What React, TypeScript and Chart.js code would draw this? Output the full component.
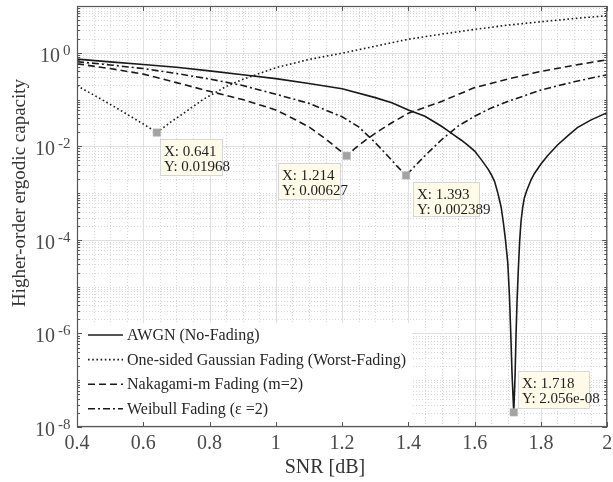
import React, { useEffect, useRef } from 'react';
import { Chart, registerables } from 'chart.js';

Chart.register(...registerables);

// ---------------- data ----------------
const awgnSnr = [0.4, 0.5, 0.6, 0.7, 0.8, 0.9, 1.0, 1.1, 1.2, 1.3, 1.35, 1.4, 1.45, 1.5, 1.52, 1.54, 1.56, 1.58, 1.6, 1.62, 1.64, 1.65, 1.66, 1.67, 1.68, 1.687, 1.693, 1.7, 1.705, 1.709, 1.713, 1.718, 1.722, 1.725, 1.728, 1.732, 1.736, 1.74, 1.745, 1.75, 1.757, 1.77, 1.78, 1.8, 1.82, 1.85, 1.88, 1.91, 1.95, 2.0];
const awgnCap = [0.73, 0.64, 0.56, 0.49, 0.41, 0.34, 0.28, 0.22, 0.17, 0.11, 0.085, 0.06, 0.044, 0.0269, 0.0214, 0.017, 0.0135, 0.0105, 0.0079, 0.0052, 0.0033, 0.0025, 0.00178, 0.001, 5e-4, 2.24e-4, 1e-4, 3.2e-5, 6.3e-6, 1e-6, 1.26e-7, 2.056e-8, 1.26e-7, 1e-6, 5e-6, 2.5e-5, 1e-4, 2.5e-4, 5e-4, 7.9e-4, 1.12e-3, 1.9e-3, 2.6e-3, 4.2e-3, 6.3e-3, 0.0107, 0.0166, 0.0251, 0.0363, 0.0525];

const gaussSnr = [0.4, 0.45, 0.5, 0.55, 0.6, 0.641, 0.68, 0.72, 0.78, 0.85, 0.9, 0.95, 1.0, 1.1, 1.2, 1.3, 1.4, 1.5, 1.6, 1.7, 1.8, 1.9, 2.0];
const gaussCap = [0.197, 0.126, 0.079, 0.049, 0.030, 0.01968, 0.032, 0.05, 0.1, 0.19, 0.27, 0.36, 0.48, 0.72, 0.98, 1.38, 1.95, 2.5, 3.16, 3.9, 4.6, 5.4, 6.2];

const nakaSnr = [0.4, 0.5, 0.6, 0.7, 0.8, 0.9, 1.0, 1.05, 1.1, 1.15, 1.18, 1.214, 1.24, 1.278, 1.3, 1.35, 1.4, 1.45, 1.5, 1.6, 1.7, 1.8, 1.9, 2.0];
const nakaCap = [0.58, 0.46, 0.35, 0.23, 0.15, 0.1, 0.06, 0.04, 0.026, 0.0145, 0.0097, 0.00627, 0.0092, 0.0148, 0.019, 0.032, 0.051, 0.068, 0.091, 0.18, 0.275, 0.4, 0.54, 0.71];

const weibSnr = [0.4, 0.5, 0.6, 0.7, 0.8, 0.9, 1.0, 1.1, 1.2, 1.25, 1.3, 1.34, 1.37, 1.393, 1.42, 1.45, 1.5, 1.55, 1.6, 1.65, 1.7, 1.8, 1.9, 2.0];
const weibCap = [0.645, 0.55, 0.46, 0.36, 0.275, 0.2, 0.13, 0.083, 0.043, 0.026, 0.012, 0.006, 0.0035, 0.002389, 0.0038, 0.0063, 0.0138, 0.027, 0.044, 0.066, 0.091, 0.16, 0.24, 0.34];

const seriesLabels = [
  'AWGN (No-Fading)',
  'One-sided Gaussian Fading (Worst-Fading)',
  'Nakagami-m Fading (m=2)',
  'Weibull Fading (\u03B5 =2)',
];

const tipX = [0.641, 1.214, 1.393, 1.718];
const tipY = [0.01968, 0.00627, 0.002389, 2.056e-8];
const tipTextX = ['X: 0.641', 'X: 1.214', 'X: 1.393', 'X: 1.718'];
const tipTextY = ['Y: 0.01968', 'Y: 0.00627', 'Y: 0.002389', 'Y: 2.056e-08'];

const xTickValues = [0.4, 0.6, 0.8, 1.0, 1.2, 1.4, 1.6, 1.8, 2.0];
const xTickLabels = ['0.4', '0.6', '0.8', '1', '1.2', '1.4', '1.6', '1.8', '2'];
const yTickExponents = [0, -2, -4, -6, -8];
const yTickExpLabels = ['0', '-2', '-4', '-6', '-8'];

const xTitle = 'SNR [dB]';
const yTitle = 'Higher-order ergodic capacity';

// ---------------- styles / layout ----------------
const FONT = "'Liberation Serif', 'Times New Roman', serif";
const LINE = '#1a1a1a';
const dashes = [[], [1.6, 2.6], [7, 4], [7, 3, 2, 3]];
// tip box placement relative to its marker: dx, dy (top-left), width, height
const tipBoxes = [
  { dx: 3, dy: 6, w: 62, h: 36 },
  { dx: -69, dy: 7, w: 62, h: 36 },
  { dx: 7, dy: 7, w: 66, h: 34 },
  { dx: 4, dy: -41, w: 71, h: 37 },
];

const framePlugin = {
  id: 'frame',
  beforeDatasetsDraw(chart: any) {
    const { ctx, chartArea: a, scales } = chart;
    const xs = scales.x, ys = scales.y;
    ctx.save();
    // minor grid (dotted)
    ctx.lineWidth = 1;
    ctx.strokeStyle = '#d8d8d8';
    ctx.setLineDash([1, 2]);
    ctx.beginPath();
    for (let i = 1; i < 32; i++) {
      if (i % 4 === 0) continue;
      const v = 0.4 + i * 0.05;
      const px = Math.round(xs.getPixelForValue(v)) + 0.5;
      ctx.moveTo(px, a.top);
      ctx.lineTo(px, a.bottom);
    }
    for (let k = -8; k <= 0; k++) {
      for (let m = 1; m <= 9; m++) {
        if (m === 1 && k % 2 === 0) continue;
        const py = Math.round(ys.getPixelForValue(m * Math.pow(10, k))) + 0.5;
        ctx.moveTo(a.left, py);
        ctx.lineTo(a.right, py);
      }
    }
    ctx.stroke();
    // major grid (solid)
    ctx.setLineDash([]);
    ctx.strokeStyle = '#e0e0e0';
    ctx.beginPath();
    xTickValues.forEach((v) => {
      const px = Math.round(xs.getPixelForValue(v)) + 0.5;
      ctx.moveTo(px, a.top);
      ctx.lineTo(px, a.bottom);
    });
    yTickExponents.forEach((e) => {
      const py = Math.round(ys.getPixelForValue(Math.pow(10, e))) + 0.5;
      ctx.moveTo(a.left, py);
      ctx.lineTo(a.right, py);
    });
    ctx.stroke();
    ctx.restore();
  },
  afterDatasetsDraw(chart: any) {
    const { ctx, chartArea: a, scales } = chart;
    const xs = scales.x, ys = scales.y;
    ctx.save();
    // legend (white background, no border)
    const legLeft = a.left + 1, legTop = a.bottom - 104, legRight = 412;
    ctx.fillStyle = '#ffffff';
    ctx.fillRect(legLeft, legTop, legRight - legLeft, a.bottom - legTop - 1);
    const lineDs = chart.data.datasets.filter((d: any) => d.isCurve);
    lineDs.forEach((d: any, i: number) => {
      const cy = legTop + 12 + i * 24.6;
      ctx.strokeStyle = LINE;
      ctx.lineWidth = 1.6;
      ctx.setLineDash(d.borderDash || []);
      ctx.beginPath();
      ctx.moveTo(88, cy);
      ctx.lineTo(123, cy);
      ctx.stroke();
      ctx.setLineDash([]);
      ctx.fillStyle = '#262626';
      ctx.font = `16px ${FONT}`;
      ctx.textAlign = 'left';
      ctx.textBaseline = 'middle';
      ctx.fillText(d.label, 127, cy + 1);
    });

    // axes box
    ctx.setLineDash([]);
    ctx.strokeStyle = '#575757';
    ctx.lineWidth = 1.2;
    ctx.strokeRect(a.left + 0.5, a.top + 0.5, a.right - a.left - 1, a.bottom - a.top - 1);

    // ticks
    ctx.lineWidth = 1;
    ctx.beginPath();
    xTickValues.forEach((v) => {
      const px = Math.round(xs.getPixelForValue(v)) + 0.5;
      ctx.moveTo(px, a.bottom);
      ctx.lineTo(px, a.bottom - 5);
      ctx.moveTo(px, a.top);
      ctx.lineTo(px, a.top + 5);
    });
    for (let k = -8; k <= 0; k++) {
      for (let m = 1; m <= 9; m++) {
        const major = m === 1 && k % 2 === 0;
        const len = major ? 5 : 3;
        const py = Math.round(ys.getPixelForValue(m * Math.pow(10, k))) + 0.5;
        ctx.moveTo(a.left, py);
        ctx.lineTo(a.left + len, py);
        ctx.moveTo(a.right, py);
        ctx.lineTo(a.right - len, py);
      }
    }
    ctx.stroke();

    // x tick labels
    ctx.fillStyle = '#4a4a4a';
    ctx.font = `20px ${FONT}`;
    ctx.textAlign = 'center';
    ctx.textBaseline = 'alphabetic';
    xTickValues.forEach((v, i) => {
      ctx.fillText(xTickLabels[i], xs.getPixelForValue(v), a.bottom + 22);
    });

    // y tick labels 10^k
    yTickExponents.forEach((e, i) => {
      const py = ys.getPixelForValue(Math.pow(10, e));
      ctx.font = `15px ${FONT}`;
      const ew = ctx.measureText(yTickExpLabels[i]).width;
      const expLeft = 70.5 - ew;
      ctx.textAlign = 'left';
      ctx.fillText(yTickExpLabels[i], expLeft, py + 2);
      ctx.font = `20px ${FONT}`;
      ctx.textAlign = 'right';
      ctx.fillText('10', expLeft - 3, py + 9);
    });

    // axis titles
    ctx.fillStyle = '#333333';
    ctx.font = `20px ${FONT}`;
    ctx.textAlign = 'center';
    ctx.fillText(xTitle, 325, a.bottom + 46);
    ctx.save();
    ctx.translate(25, 193);
    ctx.rotate(-Math.PI / 2);
    ctx.font = `19px ${FONT}`;
    ctx.fillText(yTitle, 0, 0);
    ctx.restore();

    // data tips
    tipX.forEach((v, i) => {
      const mx = xs.getPixelForValue(v);
      const my = ys.getPixelForValue(tipY[i]);
      const b = tipBoxes[i];
      const left = Math.round(mx + b.dx) + 0.5;
      const top = Math.round(my + b.dy) + 0.5;
      ctx.fillStyle = '#fffbe8';
      ctx.fillRect(left, top, b.w, b.h);
      ctx.strokeStyle = '#d6d6d6';
      ctx.lineWidth = 1;
      ctx.strokeRect(left, top, b.w, b.h);
      ctx.fillStyle = '#1e1e1e';
      ctx.font = `15px ${FONT}`;
      ctx.textAlign = 'left';
      ctx.textBaseline = 'alphabetic';
      ctx.fillText(tipTextX[i], left + 3.5, top + 16);
      ctx.fillText(tipTextY[i], left + 3.5, top + 31);
    });
    ctx.restore();
  },
};

function pts(xv: number[], yv: number[]) {
  return xv.map((v, i) => ({ x: v, y: yv[i] }));
}

export default function App() {
  const ref = useRef<HTMLCanvasElement>(null);
  useEffect(() => {
    document.body.style.margin = '0';
    const curves = [
      pts(awgnSnr, awgnCap),
      pts(gaussSnr, gaussCap),
      pts(nakaSnr, nakaCap),
      pts(weibSnr, weibCap),
    ];
    const datasets: any[] = [
      {
        label: 'Data tips',
        data: pts(tipX, tipY),
        showLine: false,
        pointStyle: 'rect',
        pointRadius: 5.3,
        pointBackgroundColor: '#a3a3a3',
        pointBorderColor: '#b8b8b8',
        pointBorderWidth: 0.5,
        order: 0,
        clip: false,
      },
      ...curves.map((c, i) => ({
        label: seriesLabels[i],
        isCurve: true,
        data: c,
        borderColor: LINE,
        borderWidth: 1.6,
        borderDash: dashes[i],
        pointRadius: 0,
        tension: 0,
        fill: false,
        order: 1,
      })),
    ];
    const chart = new Chart(ref.current as HTMLCanvasElement, {
      type: 'line',
      data: { datasets },
      options: {
        animation: false,
        responsive: false,
        devicePixelRatio: 1,
        layout: { padding: { left: 77, right: 2, top: 6, bottom: 55 } },
        plugins: { legend: { display: false }, tooltip: { enabled: false } },
        scales: {
          x: { type: 'linear', min: 0.4, max: 2, display: false },
          y: { type: 'logarithmic', min: 1e-8, max: 10, display: false },
        },
      },
      plugins: [framePlugin],
    } as any);
    return () => chart.destroy();
  }, []);
  return (
    <div style={{ width: 613, height: 482 }}>
      <canvas ref={ref} width={613} height={482} style={{ display: 'block' }} />
    </div>
  );
}
